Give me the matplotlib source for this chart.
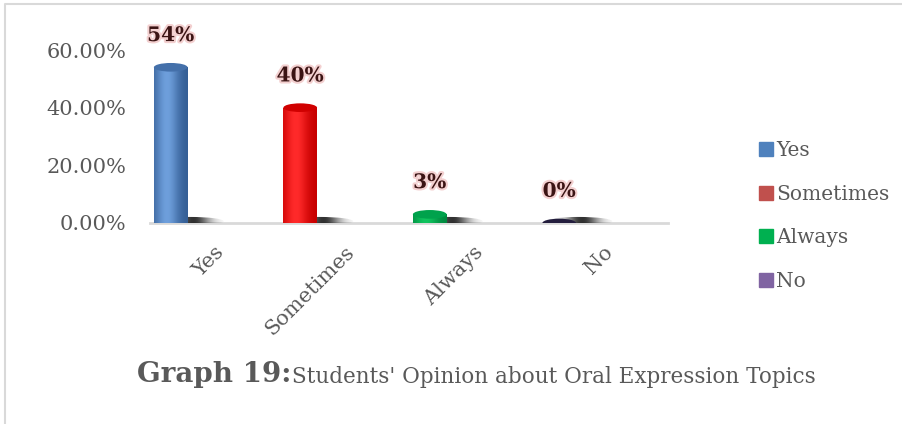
import numpy as np
import matplotlib.pyplot as plt
from matplotlib.patches import Ellipse, Rectangle
from matplotlib.lines import Line2D
import matplotlib.patheffects as pe
from matplotlib.colors import LinearSegmentedColormap

categories = ["Yes", "Sometimes", "Always", "No"]
shares = [0.54, 0.40, 0.03, 0.0]
labels = ["54%", "40%", "3%", "0%"]
yticks = [0.0, 0.2, 0.4, 0.6]
ytick_labels = ["0.00%", "20.00%", "40.00%", "60.00%"]

# cylinder shading: edge / highlight / top cap
shades = [("#355f96", "#6e9fdc", "#4470aa"),
          ("#c80000", "#ff2a2a", "#d00000"),
          ("#008a40", "#10c45e", "#00a24c"),
          ("#1d1833", "#3a3458", "#231d3d")]
legend_colors = ["#4f81bd", "#c0504d", "#00b050", "#8064a2"]

txt = "#595959"
plt.rcParams["font.family"] = ["DejaVu Serif"]

fig = plt.figure(figsize=(9.02, 4.24), dpi=100)
ax = fig.add_axes([150 / 902, 1 - 223 / 424, 518 / 902, 173 / 424])

x = np.arange(len(categories))
w = 0.26
cap_h = 0.03
bars = ax.bar(x, shares, width=w, color="none", zorder=3)

grad = np.linspace(0, 1, 64)
grad = np.exp(-((grad - 0.38) / 0.35) ** 2)[None, :]

# shadow texture: darkest just right of the cylinder, fading out to both ends
u = np.linspace(-1, 1, 128)
shadow = np.zeros((1, 128, 4))
shadow[..., :3] = 0.1
shadow[0, :, 3] = 0.9 * np.exp(-((u - 0.1) / 0.5) ** 2)

for i, (b, v) in enumerate(zip(bars, shares)):
    edge, hi, top = shades[i]
    sx, sw, sh = x[i] + 0.15, 0.52, 0.03
    clip = Ellipse((sx, 0.006), sw, sh, facecolor="none", lw=0)
    ax.add_patch(clip)
    sim = ax.imshow(shadow, aspect="auto", zorder=2,
                    extent=(sx - sw / 2, sx + sw / 2, 0.006 - sh / 2, 0.006 + sh / 2))
    sim.set_clip_path(clip)
    cmap = LinearSegmentedColormap.from_list("c%d" % i, [edge, hi])
    if v > 0:
        ax.add_patch(Ellipse((x[i], 0), w, cap_h, color=edge, lw=0, zorder=3))
        im = ax.imshow(grad, cmap=cmap, aspect="auto", zorder=3,
                       extent=(x[i] - w / 2, x[i] + w / 2, 0, v))
        im.set_clip_path(b)
    ax.add_patch(Ellipse((x[i], v), w, cap_h, color=top, lw=0, zorder=4))
    ax.annotate(labels[i], (x[i], v), xytext=(0, 16), textcoords="offset points",
                ha="center", va="bottom", fontsize=14.5, fontweight="bold",
                color="#3b1414", annotation_clip=False,
                path_effects=[pe.withStroke(linewidth=3, foreground="#f3d0d0")])

ax.set_xlim(-0.16, 3.84)
ax.set_ylim(0, 0.6)
ax.set_xticks(x + 0.34)
ax.set_xticklabels(categories, rotation=45, ha="right", rotation_mode="anchor",
                   fontsize=15, color=txt)
ax.set_yticks(yticks)
ax.set_yticklabels(ytick_labels, fontsize=15, color=txt)
ax.tick_params(length=0)
ax.tick_params(axis="y", pad=17)
ax.tick_params(axis="x", pad=14)
for s in ["top", "right", "left"]:
    ax.spines[s].set_visible(False)
ax.spines["bottom"].set_color("#d9d9d9")
ax.spines["bottom"].set_linewidth(2)
ax.spines["bottom"].set_zorder(1)
ax.patch.set_alpha(0)

handles = [Rectangle((0, 0), 1, 1, color=c) for c in legend_colors]
fig.legend(handles, categories, loc="upper left", bbox_to_anchor=(741 / 902, 1 - 123 / 424),
           frameon=False, fontsize=14.5, labelcolor=txt, handlelength=0.7,
           handleheight=0.7, handletextpad=0.15, labelspacing=1.22)

fig.text(137 / 902, 1 - 375 / 424, "Graph 19:", fontsize=20, fontweight="bold",
         color=txt, va="center", ha="left")
fig.text(292 / 902, 1 - 377 / 424, "Students' Opinion about Oral Expression Topics",
         fontsize=15.5, color=txt, va="center", ha="left")

# thin frame on the left and top edges
fig.add_artist(Line2D([5 / 902, 5 / 902, 1.01], [-0.01, 1 - 4 / 424, 1 - 4 / 424],
                      color="#d9d9d9", lw=1.5))

fig.savefig("out.png", dpi=100)
